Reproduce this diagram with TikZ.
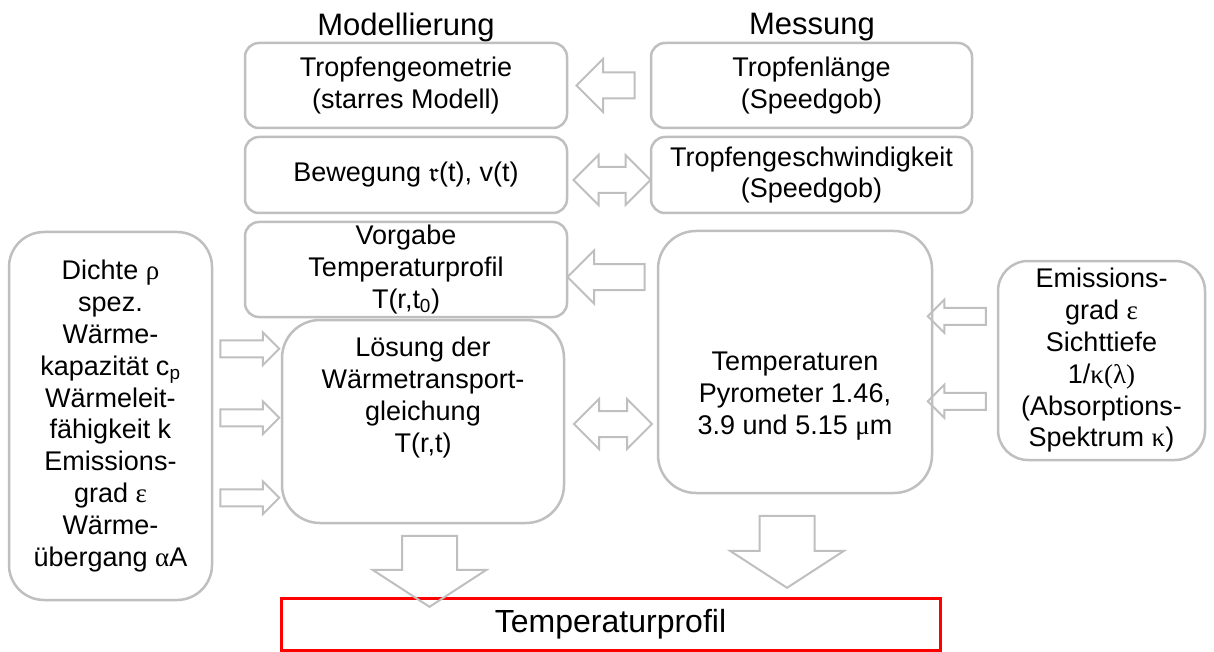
\documentclass[tikz,border=0pt]{standalone}
\usepackage{amssymb}
\usepackage{fontspec}
\setmainfont{Liberation Sans}
\newfontfamily\grk{Liberation Serif}
\usetikzlibrary{shapes.arrows,calc}

\definecolor{rahmen}{RGB}{191,191,191}
\definecolor{rot}{RGB}{255,0,0}

\tikzset{
  txt/.style={font=\fontsize{27}{31.8}\selectfont, align=center},
  kasten/.style={txt, rectangle, draw=rahmen, line width=2.5pt, rounded corners=14pt, inner sep=0pt},
  grosskasten/.style={kasten, rounded corners=38pt},
  pfeil/.style={single arrow, draw=rahmen, line width=2pt, inner xsep=0pt, inner ysep=12pt,
    single arrow head extend=13.5pt, single arrow tip angle=90, minimum width=0pt, minimum height=58pt, rotate=180},
  kleinpfeil/.style={single arrow, draw=rahmen, line width=2pt, inner xsep=0pt, inner ysep=7.5pt,
    single arrow head extend=8pt, single arrow tip angle=90, minimum width=0pt, minimum height=59pt},
  doppelpfeil/.style={double arrow, draw=rahmen, line width=2pt, inner xsep=0pt, inner ysep=12pt,
    double arrow head extend=12pt, double arrow tip angle=90, minimum width=0pt, minimum height=77pt},
  runterpfeil/.style={single arrow, draw=rahmen, line width=2pt, inner xsep=0pt, inner ysep=26.5pt,
    single arrow head extend=29.5pt, single arrow tip angle=114, minimum width=0pt, minimum height=71pt, rotate=-90},
}

\begin{document}
\begin{tikzpicture}[x=1pt, y=-1pt]
  \useasboundingbox (0,0) rectangle (1214,652);

  % Ueberschriften
  \node [txt, font=\fontsize{31}{36}\selectfont] (modell) at (406, 27) {Modellierung};
  \node [txt, font=\fontsize{31}{36}\selectfont] (messung) at (812, 27) {Messung};

  % Modellierung
  \node [kasten, minimum width=322pt, minimum height=85pt] (geo) at (406, 85.5) {Tropfengeometrie\\(starres Modell)};
  \node [kasten, minimum width=322pt, minimum height=76pt] (bew) at (406, 175) {Bewegung $\mathfrak{r}$(t), v(t)};
  \node [kasten, minimum width=322pt, minimum height=95pt] (vorgabe) at (406, 269.5) {Vorgabe\\Temperaturprofil\\T(r,t\textsubscript{0})};
  \node [grosskasten, minimum width=282pt, minimum height=203pt] (loes) at (423, 421.5) {};
  \node [txt] (loestext) at ([yshift=24pt]loes.center) {L\"osung der\\W\"armetransport-\\gleichung\\T(r,t)};
  \node [kasten, rounded corners=35pt, minimum width=203pt, minimum height=368pt] (stoff) at (110.5, 416)
    {Dichte {\grk ρ}\\spez.\\W\"arme-\\kapazit\"at c\textsubscript{p}\\W\"armeleit-\\f\"ahigkeit k\\Emissions-\\grad {\grk ε}\\W\"arme-\\\"ubergang {\grk α}A};

  % Messung
  \node [kasten, minimum width=321pt, minimum height=85pt] (laenge) at (811.5, 85.5) {Tropfenl\"ange\\(Speedgob)};
  \node [kasten, minimum width=321pt, minimum height=76pt] (geschw) at (811.5, 175) {Tropfengeschwindigkeit\\(Speedgob)};
  \node [grosskasten, minimum width=274pt, minimum height=262pt] (temp) at (795, 362) {};
  \node [txt] (temptext) at ([yshift=-34pt]temp.center) {Temperaturen\\Pyrometer 1.46,\\3.9 und 5.15 {\grk μ}m};
  \node [kasten, rounded corners=30pt, minimum width=207pt, minimum height=199pt] (emis) at (1101.5, 360.5)
    {Emissions-\\grad {\grk ε}\\Sichttiefe\\1/{\grk κ(λ)}\\(Absorptions-\\Spektrum {\grk κ})};

  % Ergebnis
  \node [draw=rot, line width=3pt, minimum width=659pt, minimum height=52pt, font=\fontsize{32}{36}\selectfont] (profil) at (610.5, 624) {Temperaturprofil};

  % Blockpfeile
  \node [pfeil] (p1) at ($(geo.east)!0.5!(laenge.west)+(3,0)$) {};
  \node [doppelpfeil] (p2) at ($(bew.east)!0.5!(geschw.west)+(3,5)$) {};
  \node [pfeil, minimum height=77pt] (p3) at ($(vorgabe.east)!0.5!(temp.west |- vorgabe.east)+(0,7.5)$) {};
  \node [doppelpfeil, minimum height=78pt] (p4) at ($(loes.east)!0.5!(temp.west |- loes.east)+(2,2.5)$) {};
  \node [kleinpfeil] (p5) at ($(stoff.east)!0.5!(loes.west)+(-1.5,-70)$) {};
  \node [kleinpfeil] (p6) at ($(stoff.east)!0.5!(loes.west)+(-1.5,-1)$) {};
  \node [kleinpfeil] (p7) at ($(stoff.east)!0.5!(loes.west)+(-1.5,79)$) {};
  \node [kleinpfeil, rotate=180, minimum height=58pt] (p8) at ($(temp.east)!0.5!(emis.west)+(-4,-45)$) {};
  \node [kleinpfeil, rotate=180, minimum height=58pt] (p9) at ($(temp.east)!0.5!(emis.west)+(-4,40)$) {};
  \node [runterpfeil] (p10) at ($(loes.south)!0.5!(loes.south |- profil.north)+(6.5,2)$) {};
  \node [runterpfeil, minimum height=72pt] (p11) at ($(temp.south)!0.5!(temp.south |- profil.north)+(-8,-2.5)$) {};
\end{tikzpicture}
\end{document}
